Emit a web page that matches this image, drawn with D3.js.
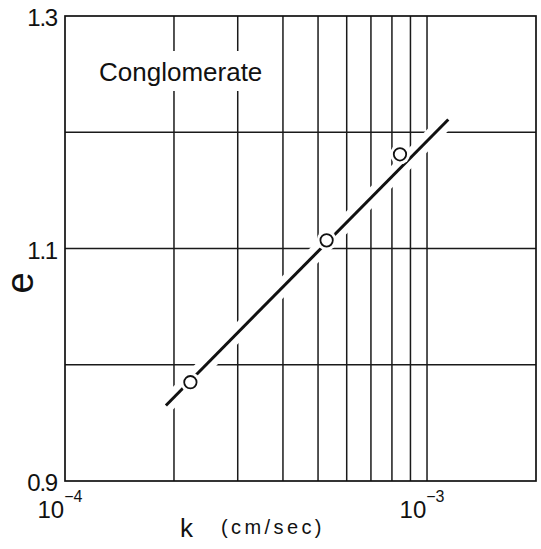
<!DOCTYPE html>
<html>
<head>
<meta charset="utf-8">
<script src="https://cdn.jsdelivr.net/npm/d3@7/dist/d3.min.js"></script>
<style>
  html, body { margin: 0; padding: 0; background: #fff; }
  svg { display: block; }
  text { font-family: "Liberation Sans", Arial, Helvetica, sans-serif; fill: #111; }
</style>
</head>
<body>
<div id="chart"></div>
<script>
// ---- data ----
const kValues = [2.22e-4, 5.28e-4, 8.42e-4];      // permeability (cm/sec)
const eValues = [0.985, 1.107, 1.181];            // void ratio
const fitK = [1.90e-4, 1.145e-3];                 // fitted line ends
const fitE = [0.965, 1.211];
const gridK = [2e-4, 3e-4, 4e-4, 5e-4, 6e-4, 7e-4, 8e-4, 9e-4, 1e-3];
const gridE = [1.0, 1.1, 1.2];
const yTicks = [0.9, 1.1, 1.3];
const yTickLabels = ["0.9", "1.1", "1.3"];
const xTicks = [1e-4, 1e-3];
const xTickExponents = ["\u22124", "\u22123"];
const seriesLabel = "Conglomerate";
const xLabel = "k";
const xUnit = "(cm/sec)";
const yLabel = "e";

// ---- layout ----
const W = 541, H = 549;
const mLeft = 65, mRight = 536, mTop = 16, mBottom = 481;

const svg = d3.select("#chart").append("svg").attr("width", W).attr("height", H);

const x = d3.scaleLog().domain([1e-4, 2e-3]).range([mLeft, mRight]);
const y = d3.scaleLinear().domain([0.9, 1.3]).range([mBottom, mTop]);

// grid lines
svg.append("g").selectAll("line").data(gridK).join("line")
  .attr("x1", d => x(d)).attr("x2", d => x(d))
  .attr("y1", mTop).attr("y2", mBottom)
  .attr("stroke", "#1a1a1a").attr("stroke-width", 1.5);
svg.append("g").selectAll("line").data(gridE).join("line")
  .attr("x1", mLeft).attr("x2", mRight)
  .attr("y1", d => y(d)).attr("y2", d => y(d))
  .attr("stroke", "#1a1a1a").attr("stroke-width", 1.5);

// frame
svg.append("rect").attr("x", mLeft).attr("y", mTop)
  .attr("width", mRight - mLeft).attr("height", mBottom - mTop)
  .attr("fill", "none").attr("stroke", "#111").attr("stroke-width", 1.7);

// series label with white background
const labBg = svg.append("rect").attr("fill", "#fff");
const lab = svg.append("text").attr("x", 99).attr("y", 81)
  .attr("font-size", 26).text(seriesLabel);
const bb = lab.node().getBBox();
labBg.attr("x", bb.x - 4).attr("y", bb.y - 6)
  .attr("width", bb.width + 8).attr("height", bb.height + 10);

// fitted line with white halo
const fitData = fitK.map((k, i) => [k, fitE[i]]);
const lineGen = d3.line().x(d => x(d[0])).y(d => y(d[1]));
svg.append("path").datum(fitData).attr("d", lineGen)
  .attr("fill", "none").attr("stroke", "#fff").attr("stroke-width", 16);
svg.append("path").datum(fitData).attr("d", lineGen)
  .attr("fill", "none").attr("stroke", "#111").attr("stroke-width", 3);

// points
const pts = kValues.map((k, i) => [k, eValues[i]]);
svg.append("g").selectAll("circle").data(pts).join("circle")
  .attr("cx", d => x(d[0])).attr("cy", d => y(d[1])).attr("r", 10)
  .attr("fill", "#fff");
svg.append("g").selectAll("circle").data(pts).join("circle")
  .attr("cx", d => x(d[0])).attr("cy", d => y(d[1])).attr("r", 6.2)
  .attr("fill", "#fff").attr("stroke", "#111").attr("stroke-width", 1.8);

// y tick labels via axis
const yAxis = d3.axisLeft(y).tickValues(yTicks).tickSize(0).tickPadding(8)
  .tickFormat((d, i) => yTickLabels[i]);
const gy = svg.append("g").attr("transform", `translate(${mLeft},0)`).call(yAxis);
gy.select(".domain").remove();
gy.selectAll("text").attr("font-size", 24).attr("letter-spacing", "-1.2px")
  .attr("dy", "0.4em").attr("fill", "#111")
  .style("font-family", "'Liberation Sans', Arial, sans-serif");

// x tick labels (10^n)
const xl = svg.append("g").selectAll("text").data(xTicks).join("text")
  .attr("x", d => x(d) - 5).attr("y", 518).attr("font-size", 24)
  .attr("text-anchor", "middle");
xl.append("tspan").text("10");
xl.append("tspan").attr("font-size", 16).attr("dx", 0).attr("dy", -16)
  .text((d, i) => xTickExponents[i]);

// axis titles
svg.append("text").attr("x", 180).attr("y", 537).attr("font-size", 26).text(xLabel);
svg.append("text").attr("x", 221).attr("y", 534).attr("font-size", 20)
  .attr("letter-spacing", "3.4px").text(xUnit);
svg.append("text").attr("transform", "translate(33,283) rotate(-90)")
  .attr("text-anchor", "middle").attr("font-size", 38).text(yLabel);
</script>
</body>
</html>
